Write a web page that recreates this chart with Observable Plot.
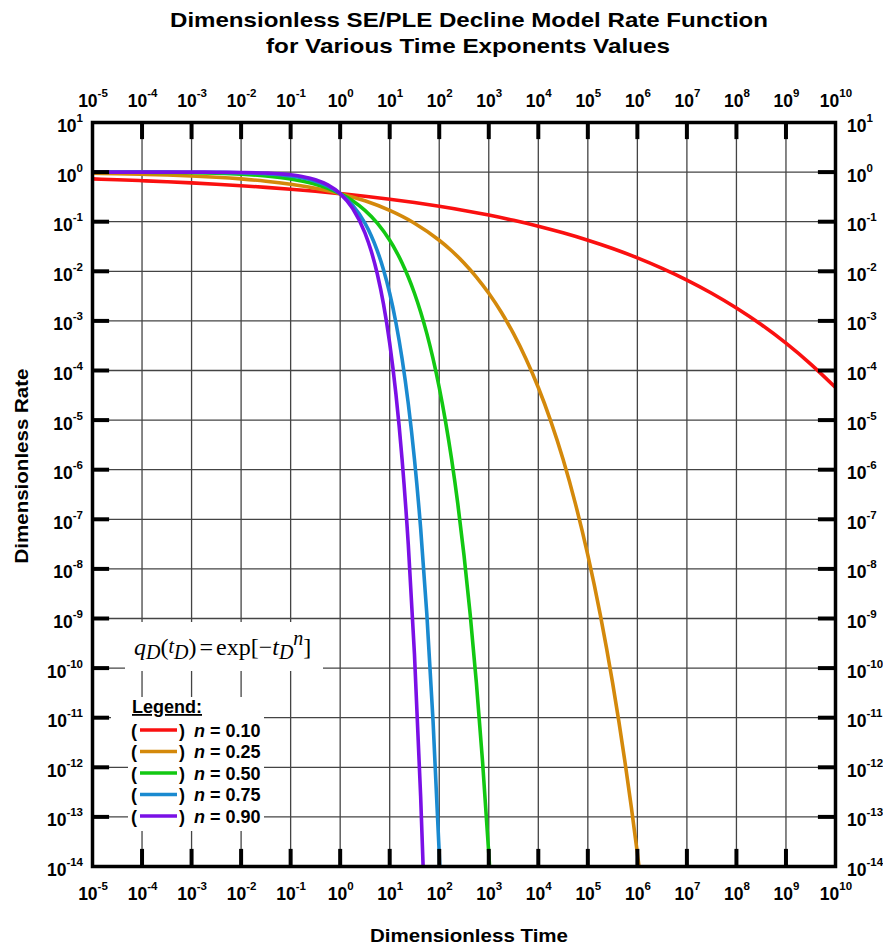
<!DOCTYPE html>
<html><head><meta charset="utf-8">
<script src="https://cdn.jsdelivr.net/npm/d3@7"></script>
<script src="https://cdn.jsdelivr.net/npm/@observablehq/plot@0.6"></script>
<style>body{margin:0;background:#fff}</style>
</head><body><div id="chart"></div>
<script>
// ---- data ----
const xExps = [-5,-4,-3,-2,-1,0,1,2,3,4,5,6,7,8,9,10];
const yExps = [1,0,-1,-2,-3,-4,-5,-6,-7,-8,-9,-10,-11,-12,-13,-14];
const seriesNames = ["n = 0.10","n = 0.25","n = 0.50","n = 0.75","n = 0.90"];
const seriesColors = ["#fa1010","#d4890b","#12c812","#1a8ad0","#7a10e6"];

const logT_010 = [-5,-4.5,-4,-3.5,-3,-2.5,-2,-1.5,-1,-0.5,0,0.5,1,1.5,2,2.5,3,3.5,4,4.5,5,5.5,6,6.5,7,7.5,8,8.5,9,9.5,10];
const q_010 = [0.7289,0.7013,0.6716,0.6398,0.6058,0.5699,0.5321,0.4927,0.4519,0.4101,0.3679,0.3256,0.2840,0.2435,0.2050,0.1689,0.1360,0.1066,0.0811,0.0597,0.0423,0.0288,0.01867,0.01148,0.00666,0.00361,0.001817,0.000843,0.000355,0.0001346,0.0000454];

const logT_025 = [-5,-4.5,-4,-3.5,-3,-2.5,-2,-1.5,-1,-0.5,0,0.5,1,1.5,2,2.25,2.5,2.75,3,3.25,3.5,3.75,4,4.25,4.5,4.75,5,5.25,5.5,5.75,6,6.1];
const q_025 = [0.9453,0.9278,0.9048,0.8752,0.8371,0.7889,0.7289,0.6559,0.5699,0.4724,0.3679,0.2636,0.1689,0.0934,0.0423,0.02594,0.01474,0.00767,0.00361,0.001511,5.53e-4,1.73e-4,4.54e-5,9.66e-6,1.62e-6,2.05e-7,1.89e-8,1.21e-9,5.03e-11,1.28e-12,1.85e-14,2.8e-15];

const logT_050 = [-5,-4.5,-4,-3.5,-3,-2.5,-2,-1.5,-1,-0.75,-0.5,-0.25,0,0.25,0.5,0.75,1,1.125,1.25,1.375,1.5,1.625,1.75,1.875,2,2.125,2.25,2.375,2.5,2.625,2.75,2.875,3,3.05];
const q_050 = [0.99684,0.99439,0.99005,0.98238,0.9689,0.9453,0.9048,0.8371,0.7289,0.6559,0.5699,0.4724,0.3679,0.2636,0.1689,0.0934,0.0423,0.02594,0.01474,0.00767,0.00361,0.001511,5.53e-4,1.73e-4,4.54e-5,9.66e-6,1.62e-6,2.05e-7,1.89e-8,1.21e-9,5.03e-11,1.28e-12,1.85e-14,2.8e-15];

const logT_075 = [-5,-4.5,-4,-3.5,-3,-2.5,-2,-1.5,-1,-0.75,-0.5,-0.25,0,0.25,0.5,0.625,0.75,0.875,1,1.125,1.25,1.375,1.5,1.625,1.75,1.875,2,2.05];
const q_075 = [0.99982,0.99958,0.9990,0.99763,0.99439,0.98675,0.9689,0.9278,0.8371,0.7605,0.6559,0.5224,0.3679,0.2143,0.0934,0.0527,0.02594,0.01076,0.00361,9.30e-4,1.73e-4,2.15e-5,1.62e-6,6.52e-8,1.21e-9,8.6e-12,1.85e-14,1.07e-15];

const logT_090 = [-5,-4.5,-4,-3.5,-3,-2.5,-2,-1.5,-1,-0.75,-0.5,-0.25,0,0.25,0.5,0.625,0.75,0.875,1,1.125,1.25,1.375,1.5,1.625,1.7];
const q_090 = [0.99997,0.99991,0.99975,0.99929,0.99801,0.99439,0.98428,0.95631,0.8817,0.8095,0.7013,0.5512,0.3679,0.1866,0.0597,0.02594,0.00881,0.002175,3.55e-4,3.39e-5,1.62e-6,3.13e-8,1.90e-10,2.55e-13,1.94e-15];

const seriesLogT = [logT_010, logT_025, logT_050, logT_075, logT_090];
const seriesQ = [q_010, q_025, q_050, q_075, q_090];

const data = [];
seriesNames.forEach((name, i) => {
  seriesLogT[i].forEach((lt, j) => data.push({series: name, t: Math.pow(10, lt), q: seriesQ[i][j]}));
});

const xTicks = xExps.map(e => Math.pow(10, e));
const yTicks = yExps.map(e => Math.pow(10, e));
const xInner = xTicks.slice(1, -1);
const yInner = yTicks.slice(1, -1);
const tickDec = 0.345; // tick length (in decades, ~17px)

const plot = Plot.plot({
  width: 883, height: 947,
  marginLeft: 92, marginRight: 48, marginTop: 122, marginBottom: 81,
  x: {type: "log", domain: [1e-5, 1e10], axis: null},
  y: {type: "log", domain: [1e-14, 10], axis: null},
  color: {domain: seriesNames, range: seriesColors},
  style: {background: "#fff", fontFamily: "'Liberation Sans', Arial, sans-serif"},
  marks: [
    Plot.ruleX(xTicks, {stroke: "#444", strokeWidth: 1.3}),
    Plot.ruleY(yTicks, {stroke: "#444", strokeWidth: 1.3}),
    Plot.line(data, {x: "t", y: "q", z: "series", stroke: "series", strokeWidth: 3.6, curve: "monotone-x", clip: true}),
    Plot.ruleX(xInner, {y1: 10, y2: Math.pow(10, 1 - tickDec), stroke: "#000", strokeWidth: 4}),
    Plot.ruleX(xInner, {y1: 1e-14, y2: Math.pow(10, -14 + tickDec), stroke: "#000", strokeWidth: 4}),
    Plot.ruleY(yInner, {x1: 1e-5, x2: Math.pow(10, -5 + tickDec), stroke: "#000", strokeWidth: 4}),
    Plot.ruleY(yInner, {x1: 1e10, x2: Math.pow(10, 10 - tickDec), stroke: "#000", strokeWidth: 4}),
    Plot.frame({stroke: "#000", strokeWidth: 3.5})
  ]
});
document.getElementById("chart").appendChild(plot);

// ---- annotations: tick labels, titles, legend ----
const svg = d3.select(plot);
const sx = plot.scale("x"), sy = plot.scale("y");
const FONT = "'Liberation Sans', Arial, sans-serif";
const g = svg.append("g").attr("font-family", FONT).attr("font-weight", "bold").attr("fill", "#000");

function label(sel, exp) {
  sel.text("10").append("tspan").attr("dy", -10).attr("font-size", 11.5).text(String(exp));
}
xExps.forEach(e => {
  const px = sx.apply(Math.pow(10, e)) + 1;
  label(g.append("text").attr("x", px).attr("y", 107).attr("text-anchor", "middle").attr("font-size", 17.5), e);
  label(g.append("text").attr("x", px).attr("y", 900).attr("text-anchor", "middle").attr("font-size", 17.5), e);
});
yExps.forEach(e => {
  const py = sy.apply(Math.pow(10, e)) + 10;
  label(g.append("text").attr("x", 83).attr("y", py).attr("text-anchor", "end").attr("font-size", 17.5), e);
  label(g.append("text").attr("x", 847).attr("y", py).attr("text-anchor", "start").attr("font-size", 17.5), e);
});

// titles
g.append("text").attr("x", 469).attr("y", 27).attr("text-anchor", "middle").attr("font-size", 21)
  .attr("textLength", 598).attr("lengthAdjust", "spacingAndGlyphs").text("Dimensionless SE/PLE Decline Model Rate Function");
g.append("text").attr("x", 468).attr("y", 53).attr("text-anchor", "middle").attr("font-size", 21)
  .attr("textLength", 404).attr("lengthAdjust", "spacingAndGlyphs").text("for Various Time Exponents Values");
g.append("text").attr("x", 469).attr("y", 942).attr("text-anchor", "middle").attr("font-size", 19)
  .attr("textLength", 198).attr("lengthAdjust", "spacingAndGlyphs").text("Dimensionless Time");
g.append("text").attr("transform", "translate(28,466) rotate(-90)").attr("text-anchor", "middle").attr("font-size", 19)
  .attr("textLength", 195).attr("lengthAdjust", "spacingAndGlyphs").text("Dimensionless Rate");

// formula box
const lg = svg.append("g").attr("text-anchor", "start");
lg.append("rect").attr("x", 125).attr("y", 622).attr("width", 198).attr("height", 49).attr("fill", "#fff");
const f = lg.append("text").attr("x", 134).attr("y", 655).attr("text-anchor", "start").attr("font-family", "'Liberation Serif', 'Times New Roman', serif").attr("font-size", 24).attr("fill", "#000");
f.append("tspan").attr("font-style", "italic").text("q");
f.append("tspan").attr("font-style", "italic").attr("font-size", 20).attr("dy", 4).text("D");
f.append("tspan").attr("dy", -4).text("(");
f.append("tspan").attr("font-style", "italic").attr("font-size", 20).attr("dy", -2).text("t");
f.append("tspan").attr("font-style", "italic").attr("font-size", 20).attr("dy", 6).text("D");
f.append("tspan").attr("dy", -4).text(")");
f.append("tspan").attr("dx", 3).text("=");
f.append("tspan").attr("dx", 3).text("exp[\u2212");
f.append("tspan").attr("font-style", "italic").text("t");
f.append("tspan").attr("font-style", "italic").attr("font-size", 20).attr("dy", 4).text("D");
f.append("tspan").attr("font-style", "italic").attr("font-size", 20).attr("dy", -14).text("n");
f.append("tspan").attr("dy", 10).text("]");

// legend block
lg.append("rect").attr("x", 111).attr("y", 697).attr("width", 153).attr("height", 25).attr("fill", "#fff");
lg.append("rect").attr("x", 128).attr("y", 697).attr("width", 136).attr("height", 134).attr("fill", "#fff");
lg.append("text").attr("x", 132).attr("y", 713).attr("text-anchor", "start").attr("font-family", FONT).attr("font-weight", "bold").attr("font-size", 18)
  .attr("text-decoration", "underline").text("Legend:");
seriesNames.forEach((name, i) => {
  const cy = 730 + i * 21.5;
  lg.append("text").attr("x", 131).attr("y", cy + 6.5).attr("text-anchor", "start").attr("font-family", FONT).attr("font-weight", "bold").attr("font-size", 18).text("(");
  lg.append("line").attr("x1", 140).attr("x2", 177).attr("y1", cy).attr("y2", cy).attr("stroke", seriesColors[i]).attr("stroke-width", 3.5);
  lg.append("text").attr("x", 179).attr("y", cy + 6.5).attr("text-anchor", "start").attr("font-family", FONT).attr("font-weight", "bold").attr("font-size", 18).text(")");
  const t = lg.append("text").attr("x", 194).attr("y", cy + 6.5).attr("text-anchor", "start").attr("font-family", FONT).attr("font-weight", "bold").attr("font-size", 18);
  t.append("tspan").attr("font-style", "italic").text("n");
  t.append("tspan").text(name.slice(1));
});
</script>
</body></html>
